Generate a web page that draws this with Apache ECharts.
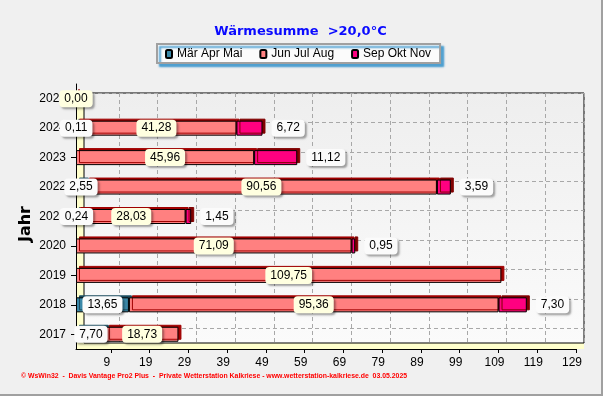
<!DOCTYPE html>
<html>
<head>
<meta charset="utf-8">
<script src="https://cdn.jsdelivr.net/npm/echarts@6/dist/echarts.min.js"></script>
<style>
  html, body { margin: 0; padding: 0; background: #f0f0f0; }
  #wrap { width: 601px; height: 394px; border-right: 2px solid #a0a0a0; border-bottom: 2px solid #a0a0a0; background: #f0f0f0; }
  #chart { width: 601px; height: 394px; }
</style>
</head>
<body>
<div id="wrap"><div id="chart"></div></div>
<script>
// ---- data ----
const years = ['2017', '2018', '2019', '2020', '2021', '2022', '2023', '2024', '2025'];
const marAprMai = [7.70, 13.65, null, null, 0.24, 2.55, null, 0.11, null];
const junJulAug = [18.73, 95.36, 109.75, 71.09, 28.03, 90.56, 45.96, 41.28, 0.00];
const sepOktNov = [null, 7.30, null, 0.95, 1.45, 3.59, 11.12, 6.72, null];
const xTicks = [9, 19, 29, 39, 49, 59, 69, 79, 89, 99, 109, 119, 129];
const xMin = 0, xMax = 129;
const seriesNames = ['Mär Apr Mai', 'Jun Jul Aug', 'Sep Okt Nov'];
const titleText = 'Wärmesumme  >20,0°C';
const yName = 'Jahr';
const footer = '© WsWin32  -  Davis Vantage Pro2 Plus  -  Private Wetterstation Kalkriese - www.wetterstation-kalkriese.de  03.05.2025';
// back-wall row lines (one per year, at row centres)
const rowLines = years.map((y, i) => i + 0.5);

const fmt = p => (p.value == null ? '' : Number(p.value).toFixed(2).replace('.', ','));
const FONT = 'Liberation Sans';

function labelStyle(bg, pos) {
  return {
    show: true, position: pos, distance: 9, formatter: fmt,
    color: '#000', fontFamily: FONT, fontSize: 12,
    backgroundColor: bg, borderRadius: 4, padding: [3, 5, 2, 5],
    shadowColor: 'rgba(0,0,0,0.35)', shadowBlur: 2, shadowOffsetX: 2, shadowOffsetY: 2
  };
}
function barSeries(name, data, color, depthColor, lbl) {
  return {
    name: name, type: 'bar', stack: 'total', data: data,
    xAxisIndex: 0, yAxisIndex: 0, barWidth: 15,
    itemStyle: { color: color, borderColor: '#000', borderWidth: 1,
      shadowColor: depthColor, shadowBlur: 0, shadowOffsetX: 3, shadowOffsetY: -2 },
    label: lbl,
    emphasis: { disabled: true }
  };
}

const chart = echarts.init(document.getElementById('chart'), null, { renderer: 'canvas' });
chart.setOption({
  animation: false,
  backgroundColor: '#f0f0f0',
  title: {
    text: titleText, left: 'center', top: 20,
    textStyle: { color: '#0a0aff', fontFamily: 'DejaVu Sans', fontWeight: 'bold', fontSize: 13 }
  },
  legend: {
    data: seriesNames, left: 157, top: 44,
    itemWidth: 6, itemHeight: 8, itemGap: 17,
    textStyle: { color: '#000', fontFamily: FONT, fontSize: 12 },
    backgroundColor: '#fbfbfb', borderColor: '#a0a0a0', borderWidth: 2,
    padding: [4, 9, 3, 8],
    shadowColor: 'rgba(40,140,200,0.8)', shadowBlur: 2, shadowOffsetX: 3, shadowOffsetY: 3
  },
  grid: [
    { left: 76, right: 25, top: 84, bottom: 45, show: false },
    { left: 76, right: 17, top: 93, bottom: 45, show: true, backgroundColor: '#ffffcc', borderWidth: 0 },
    { left: 84, right: 17, top: 93, bottom: 51, show: true, borderColor: '#000', borderWidth: 1,
      backgroundColor: { type: 'linear', x: 0, y: 0, x2: 0, y2: 1,
        colorStops: [{ offset: 0, color: '#eeeeee' }, { offset: 1, color: '#fbfbfb' }] } }
  ],
  xAxis: [
    { type: 'value', gridIndex: 0, min: xMin, max: xMax,
      axisLine: { show: true, lineStyle: { color: '#000', width: 1 } },
      axisTick: { show: true, length: 4, customValues: xTicks, lineStyle: { color: '#000' } },
      axisLabel: { customValues: xTicks, color: '#000', fontFamily: FONT, fontSize: 12, margin: 8, padding: [0, 8, 0, 0] },
      splitLine: { show: false } },
    { type: 'value', gridIndex: 1, min: xMin, max: xMax, show: false },
    { type: 'value', gridIndex: 2, min: xMin, max: xMax,
      axisLine: { show: false }, axisLabel: { show: false },
      axisTick: { show: false, customValues: xTicks },
      splitLine: { show: true, lineStyle: { color: '#a8a8a8', type: [4, 3], width: 1 } } }
  ],
  yAxis: [
    { type: 'category', gridIndex: 0, data: years,
      axisLine: { show: true, lineStyle: { color: '#000', width: 1 } },
      axisTick: { show: true, length: 5, alignWithLabel: true, lineStyle: { color: '#000' } },
      axisLabel: { color: '#000', fontFamily: FONT, fontSize: 12, margin: 10 },
      splitLine: { show: false },
      name: yName, nameLocation: 'middle', nameRotate: 90, nameGap: 42, nameMoveOverlap: false,
      nameTextStyle: { color: '#000', fontFamily: 'DejaVu Sans', fontWeight: 'bold', fontSize: 16, padding: [0, 15, 0, 0] } },
    { type: 'value', gridIndex: 1, show: false },
    { type: 'value', gridIndex: 2, min: 0, max: 8.5,
      axisLine: { show: false }, axisLabel: { show: false },
      axisTick: { show: false, customValues: rowLines },
      splitLine: { show: true, lineStyle: { color: '#a8a8a8', type: [4, 3], width: 1 } } }
  ],
  series: [
    barSeries(seriesNames[0], marAprMai, '#3a88a8', '#1d4d60', labelStyle('#fbfbfb', 'inside')),
    barSeries(seriesNames[1], junJulAug, '#ff8080', '#a00000', labelStyle('#ffffe0', 'inside')),
    barSeries(seriesNames[2], sepOktNov, '#ff0080', '#800000', labelStyle('#fbfbfb', 'right'))
  ],
  graphic: [
    { type: 'text', left: 21, top: 373, silent: true,
      style: { text: footer, fill: '#ff0000', font: 'bold 6.9px "Liberation Sans"' } }
  ]
});
</script>
</body>
</html>
